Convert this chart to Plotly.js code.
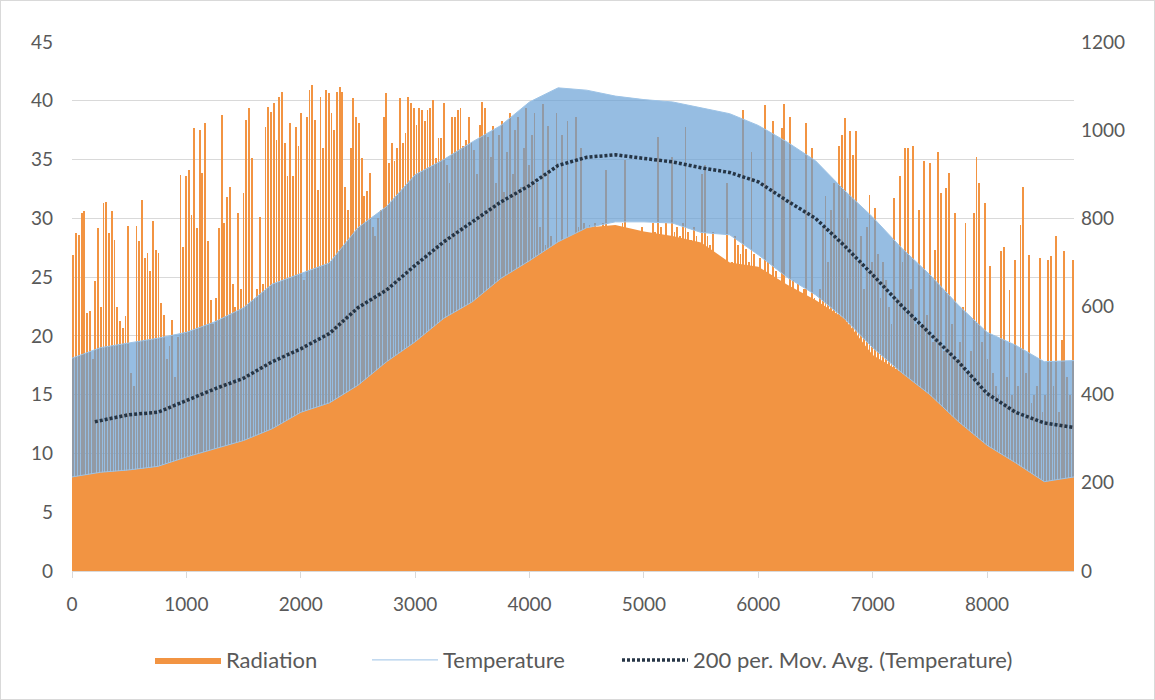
<!DOCTYPE html>
<html><head><meta charset="utf-8">
<script src="https://cdn.plot.ly/plotly-3.0.1.min.js"></script>
<style>
html,body{margin:0;padding:0;background:#fff}
#chart{width:1155px;height:700px}
#frame{position:absolute;left:0;top:0;width:1155px;height:700px;box-sizing:border-box;border:1px solid #d9d9d9;pointer-events:none}
</style>
</head><body><div id="chart"></div><div id="frame"></div>
<script>
// Daily peak radiation (right axis, W/m²), one value per day, day 0..364
const radiationDaily = [
717,766,763,812,816,585,589,480,657,778,
600,834,838,766,816,751,600,566,551,578,
782,450,420,782,748,842,710,721,680,793,
729,721,608,581,480,510,570,440,530,899,
736,895,910,808,1004,778,1001,903,1016,748,
615,560,620,778,1034,789,849,872,650,600,
812,640,857,1023,1050,936,620,640,804,650,
1008,1053,1042,1061,978,1076,1087,970,895,1016,
895,1008,963,1038,660,1031,1091,1102,1023,865,
1076,960,1091,1084,1040,1000,1087,1099,1087,870,
820,959,1072,1031,1016,936,850,861,903,780,
760,800,820,1031,1084,925,970,930,959,1072,
970,993,1076,1061,1050,1012,1050,1046,1020,1046,
1050,1069,936,982,982,1061,921,880,1031,1031,
1046,1050,963,978,1031,974,955,900,1012,1065,
1050,985,940,1010,880,990,1020,860,950,1040,
900,1000,1030,870,960,1050,920,990,1040,880,
780,1060,740,1010,760,730,1040,720,990,750,
1020,740,760,1031,780,960,790,770,785,720,
790,780,760,790,910,640,780,560,700,520,
790,933,480,620,450,700,560,780,600,760,
650,790,770,985,780,760,790,740,940,770,
780,760,790,1008,770,750,780,760,720,900,
920,760,740,770,650,580,690,560,880,620,
700,760,740,720,1046,730,700,950,720,690,
710,680,1057,700,660,1020,680,650,1004,1060,
640,1031,660,620,650,630,640,1016,600,960,
620,590,640,780,850,700,820,880,760,963,
989,1027,800,997,944,997,700,760,640,780,
853,700,823,720,620,700,660,600,560,846,
620,895,700,959,959,640,963,560,819,560,
929,580,925,520,729,951,857,500,868,903,
560,812,480,520,600,789,450,500,812,940,
880,520,834,480,691,450,420,400,725,736,
440,638,400,706,420,785,872,450,717,380,
400,420,710,360,400,706,714,420,759,360,
525,725,440,400,706
];

// Level (W/m²) up to which the radiation columns appear solid, read at these hours
const denseHours = [0,250,500,750,1000,1250,1500,1750,2000,2250,2500,2750,3000,3250,3500,3750,4000,4250,4500,4750,5000,5250,5500,5750,6000,6250,6500,6750,7000,7250,7500,7750,8000,8250,8500,8760];
const radiationDenseLevel = [213,224,229,237,259,277,296,323,360,381,421,475,520,573,611,664,704,747,779,785,770,760,745,700,690,650,615,573,490,451,400,339,285,245,203,213];

// Temperature (left axis, °C): daily max / min envelopes read at these hours
const tempHours = [0,250,500,750,1000,1250,1500,1750,2000,2250,2500,2750,3000,3250,3500,3750,4000,4250,4500,4750,5000,5250,5500,5750,6000,6250,6500,6750,7000,7250,7500,7750,8000,8250,8500,8760];
const tempDailyMax = [18.1,19.0,19.4,19.8,20.3,21.2,22.4,24.4,25.3,26.2,29.2,31.0,33.7,35.0,36.5,37.9,39.9,41.1,40.9,40.4,40.1,39.9,39.4,38.9,37.9,36.5,34.9,32.4,30.1,27.5,25.2,22.6,20.3,19.2,17.8,17.9];
const tempDailyMin = [8.0,8.4,8.6,8.9,9.7,10.4,11.1,12.1,13.5,14.3,15.8,17.8,19.5,21.5,22.9,24.9,26.4,28.0,29.2,29.7,29.7,29.6,28.8,28.6,26.9,25.0,23.5,21.5,19.0,16.9,15.0,12.7,10.7,9.2,7.6,8.0];

// 200-period moving average of temperature
const movAvgHours = [200,500,750,1000,1250,1500,1750,2000,2250,2500,2750,3000,3250,3500,3750,4000,4250,4500,4750,5000,5250,5500,5750,6000,6250,6500,6750,7000,7250,7500,7750,8000,8250,8500,8760];
const movAvgTemp = [12.7,13.3,13.5,14.5,15.5,16.4,17.8,18.9,20.2,22.4,23.9,26.0,28.0,29.7,31.4,32.8,34.5,35.2,35.4,35.1,34.8,34.3,33.9,33.1,31.5,30.0,27.7,25.2,22.6,20.2,17.8,15.1,13.5,12.6,12.2];

const xTickVals = [0,1000,2000,3000,4000,5000,6000,7000,8000];
const leftTickVals = [0,5,10,15,20,25,30,35,40,45];
const rightTickVals = [0,200,400,600,800,1000,1200];

const FONT = 'Lato, "Open Sans", sans-serif';
const TXT = '#595959';
const ORANGE = 'rgb(242,148,66)';

const traces = [
  {
    type: 'scatter', mode: 'lines', name: 'Radiation', legendgroup: 'rad', legend: 'legend',
    x: denseHours, y: radiationDenseLevel, yaxis: 'y',
    fill: 'tozeroy', fillcolor: ORANGE, line: {width: 0, color: ORANGE},
    hoverinfo: 'skip'
  },
  {
    type: 'bar', name: 'Radiation', legendgroup: 'rad', showlegend: false,
    y: radiationDaily, x0: 12, dx: 24, width: 16,
    yaxis: 'y',
    marker: {color: 'rgba(242,148,66,0.999)', line: {width: 0}},
    hoverinfo: 'skip'
  },
  {
    type: 'scatter', mode: 'lines', name: 'Temperature', legend: 'legend2',
    x: tempHours, y: tempDailyMax, yaxis: 'y2',
    line: {color: 'rgba(157,195,230,1)', width: 1},
    hoverinfo: 'skip'
  },
  {
    type: 'scatter', mode: 'lines', name: 'Temperature min', showlegend: false,
    x: tempHours, y: tempDailyMin, yaxis: 'y2',
    fill: 'tonexty', fillcolor: 'rgba(100,158,212,0.68)',
    line: {color: 'rgba(157,195,230,1)', width: 1},
    hoverinfo: 'skip'
  },
  {
    type: 'scatter', mode: 'lines', name: '200 per. Mov. Avg. (Temperature)', legend: 'legend3',
    x: movAvgHours, y: movAvgTemp, yaxis: 'y2',
    line: {color: '#263545', width: 3.5, dash: '3px,2px'},
    hoverinfo: 'skip'
  }
];

function legendAt(xpx) {
  return {
    orientation: 'h', xref: 'container', x: xpx / 1155, xanchor: 'left',
    yref: 'container', y: 0.057, yanchor: 'middle',
    font: {family: FONT, size: 22, color: TXT},
    itemwidth: 66, bgcolor: 'rgba(0,0,0,0)'
  };
}

const layout = {
  width: 1155, height: 700,
  margin: {l: 72, r: 81, t: 42, b: 129},
  paper_bgcolor: '#fff', plot_bgcolor: '#fff',
  font: {family: FONT, size: 19, color: TXT},
  showlegend: true,
  bargap: 0,
  xaxis: {
    range: [0, 8760], tickvals: xTickVals, ticktext: xTickVals.map(String),
    showgrid: false, zeroline: false,
    showline: true, linecolor: '#d9d9d9', linewidth: 1,
    ticks: 'outside', ticklen: 6, tickcolor: '#d9d9d9',
    ticklabelstandoff: 10,
    tickfont: {family: FONT, size: 19, color: TXT}
  },
  yaxis: {
    side: 'right', range: [0, 1200], tickvals: rightTickVals,
    showgrid: false, zeroline: false, showline: false, ticks: '',
    ticklabelstandoff: 6,
    tickfont: {family: FONT, size: 19, color: TXT}
  },
  yaxis2: {
    overlaying: 'y', side: 'left', range: [0, 45], tickvals: leftTickVals,
    showgrid: true, gridcolor: '#d9d9d9', gridwidth: 1,
    zeroline: false, showline: false, ticks: '',
    ticklabelstandoff: 18,
    tickfont: {family: FONT, size: 19, color: TXT}
  },
  legend: legendAt(150),
  legend2: legendAt(367),
  legend3: legendAt(617)
};

Plotly.newPlot('chart', traces, layout, {displayModeBar: false, staticPlot: true});
</script>
</body></html>
